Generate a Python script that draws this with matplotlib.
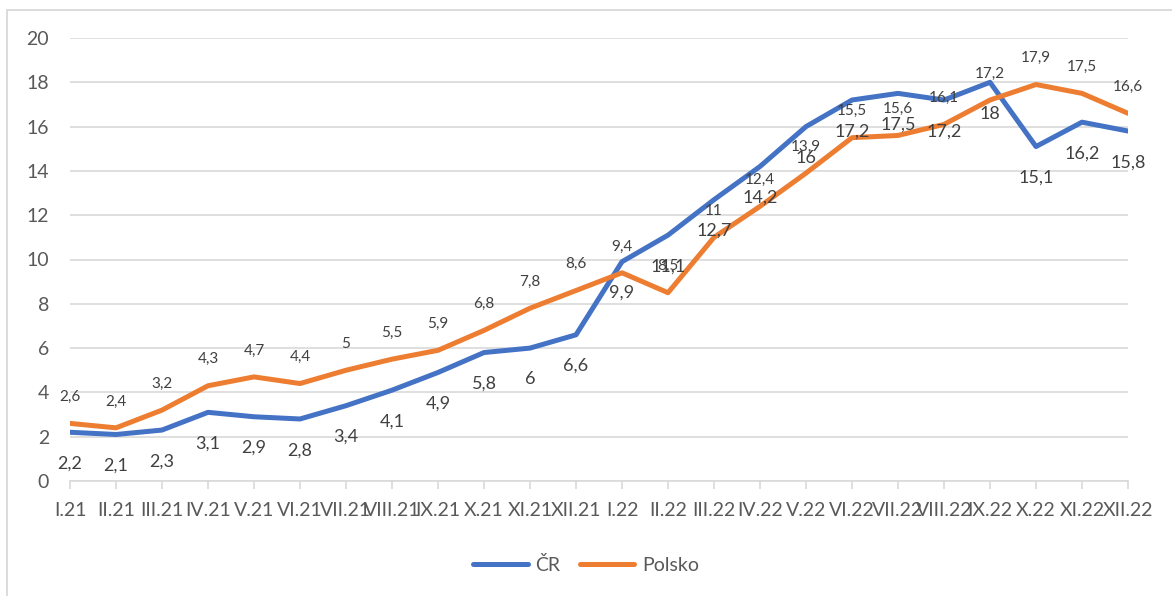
import matplotlib.pyplot as plt
from matplotlib.patches import Rectangle

# data
mesice = ['I.21', 'II.21', 'III.21', 'IV.21', 'V.21', 'VI.21', 'VII.21', 'VIII.21',
          'IX.21', 'X.21', 'XI.21', 'XII.21', 'I.22', 'II.22', 'III.22', 'IV.22',
          'V.22', 'VI.22', 'VII.22', 'VIII.22', 'IX.22', 'X.22', 'XI.22', 'XII.22']
cr = [2.2, 2.1, 2.3, 3.1, 2.9, 2.8, 3.4, 4.1, 4.9, 5.8, 6, 6.6,
      9.9, 11.1, 12.7, 14.2, 16, 17.2, 17.5, 17.2, 18, 15.1, 16.2, 15.8]
polsko = [2.6, 2.4, 3.2, 4.3, 4.7, 4.4, 5, 5.5, 5.9, 6.8, 7.8, 8.6,
          9.4, 8.5, 11, 12.4, 13.9, 15.5, 15.6, 16.1, 17.2, 17.9, 17.5, 16.6]

plt.rcParams['font.family'] = ['Lato', 'DejaVu Sans']
txt = '#595959'
modra = '#4472C4'
oranz = '#ED7D31'

fig = plt.figure(figsize=(11.72, 5.96), dpi=100)
ax = fig.add_axes([70/1172, 1-481/596, (1128-70)/1172, (481-38)/596])

# ramecek grafu
fig.patches.append(Rectangle((6.5/1172, -0.1), 1.2, 1-10/596+0.1, transform=fig.transFigure,
                             fill=False, edgecolor='#D9D9D9', linewidth=1.3))

x = list(range(len(mesice)))
ax.plot(x, cr, color=modra, lw=3.6, label='ČR', solid_capstyle='round', solid_joinstyle='round')
ax.plot(x, polsko, color=oranz, lw=3.6, label='Polsko', solid_capstyle='round', solid_joinstyle='round')

# popisky hodnot
for i in x:
    ax.annotate(str(cr[i]).replace('.', ','), (i, cr[i]), xytext=(0, -22.5),
                textcoords='offset points', ha='center', va='center', fontsize=13, color='#404040')
    ax.annotate(str(polsko[i]).replace('.', ','), (i, polsko[i]), xytext=(0, 19),
                textcoords='offset points', ha='center', va='center', fontsize=11, color='#404040')

ax.set_xlim(0, 23)
ax.set_ylim(0, 20)
ax.set_yticks(range(0, 21, 2))
ax.set_xticks(x)
ax.set_xticklabels(mesice)
ax.grid(axis='y', color='#D9D9D9', lw=1.2)
ax.set_axisbelow(True)
for s in ['top', 'right', 'left']:
    ax.spines[s].set_visible(False)
ax.spines['bottom'].set_color('#D9D9D9')
ax.spines['bottom'].set_linewidth(1.2)
ax.tick_params(axis='y', length=0, pad=15, labelsize=14, labelcolor=txt)
ax.tick_params(axis='x', length=6, color='#D9D9D9', width=1.2, pad=9, labelsize=14, labelcolor=txt)

leg = fig.legend(loc='center', bbox_to_anchor=(0.5, 1-565/596), ncol=2, frameon=False,
                 fontsize=14, handlelength=2.8, columnspacing=1.0, handletextpad=0.4)
for t in leg.get_texts():
    t.set_color(txt)

plt.savefig('out.png', dpi=100)
